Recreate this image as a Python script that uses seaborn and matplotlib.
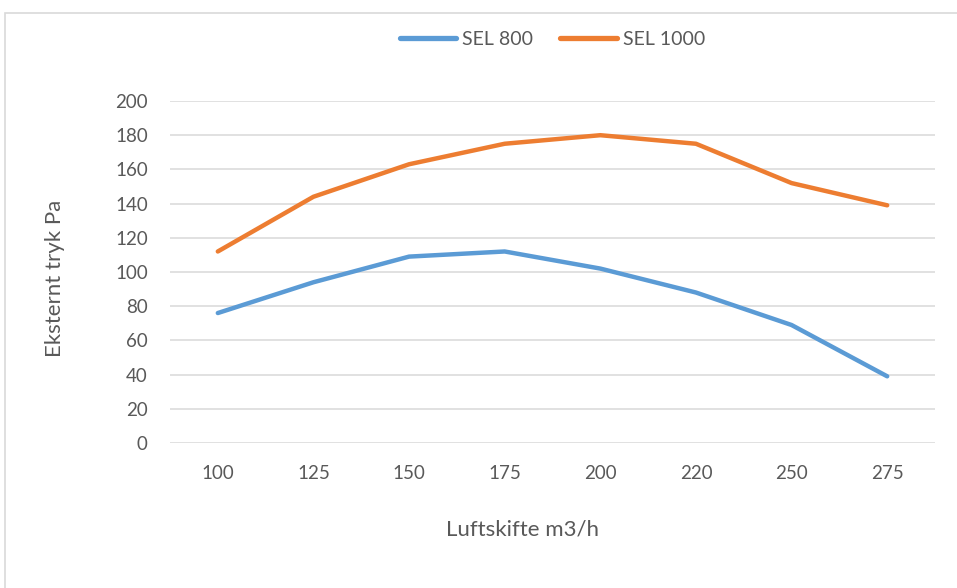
import pandas as pd
import seaborn as sns
import matplotlib.pyplot as plt
from matplotlib.patches import Rectangle

# data
luftskifte = ["100", "125", "150", "175", "200", "220", "250", "275"]
sel_800 = [76, 94, 109, 112, 102, 88, 69, 39]
sel_1000 = [112, 144, 163, 175, 180, 175, 152, 139]
series_names = ["SEL 800", "SEL 1000"]
colors = ["#5B9BD5", "#ED7D31"]

df = pd.DataFrame({
    "Luftskifte": luftskifte * 2,
    "Tryk": sel_800 + sel_1000,
    "Serie": [series_names[0]] * len(luftskifte) + [series_names[1]] * len(luftskifte),
})

sns.set_style("white")
plt.rcParams["font.family"] = ["Lato", "DejaVu Sans"]
text_col = "#595959"

fig = plt.figure(figsize=(9.57, 5.88), dpi=100)
ax = fig.add_axes([170 / 957, 1 - 443 / 588, (935 - 170) / 957, (443 - 101) / 588])

sns.lineplot(data=df, x="Luftskifte", y="Tryk", hue="Serie", palette=colors,
             sort=False, linewidth=3.2, ax=ax)
for line in ax.lines:
    line.set_solid_capstyle("round")
    line.set_solid_joinstyle("round")

ax.set_xlim(-0.5, len(luftskifte) - 0.5)
ax.set_ylim(0, 200)
ax.set_yticks(range(0, 201, 20))
ax.yaxis.grid(True, color="#D9D9D9", linewidth=1.1)
ax.set_axisbelow(True)
for s in ax.spines.values():
    s.set_visible(False)
ax.tick_params(axis="both", length=0, labelsize=13.5, colors=text_col)
ax.tick_params(axis="x", pad=16)
ax.tick_params(axis="y", pad=16)

ax.set_xlabel("Luftskifte m3/h", fontsize=16, color=text_col)
ax.set_ylabel("Eksternt tryk Pa", fontsize=16, color=text_col)
ax.xaxis.set_label_coords(0.461, -0.254)
ax.xaxis.label.set_va("center")
ax.yaxis.set_label_coords(-0.150, 0.482)
ax.yaxis.label.set_va("center")

leg = ax.legend(loc="center", bbox_to_anchor=(0.5, 1.18), ncol=2, frameon=False,
                fontsize=14, handlelength=2.9, handletextpad=0.3, columnspacing=1.4)
for t in leg.get_texts():
    t.set_color(text_col)
for h in leg.get_lines():
    h.set_linewidth(3.8)

# outer chart border
fig.patches.append(Rectangle((5 / 957, -0.1), 1.2, 1.1 - 13 / 588,
                             transform=fig.transFigure, fill=False,
                             edgecolor="#D9D9D9", linewidth=1.2))

fig.savefig("out.png", dpi=100)
